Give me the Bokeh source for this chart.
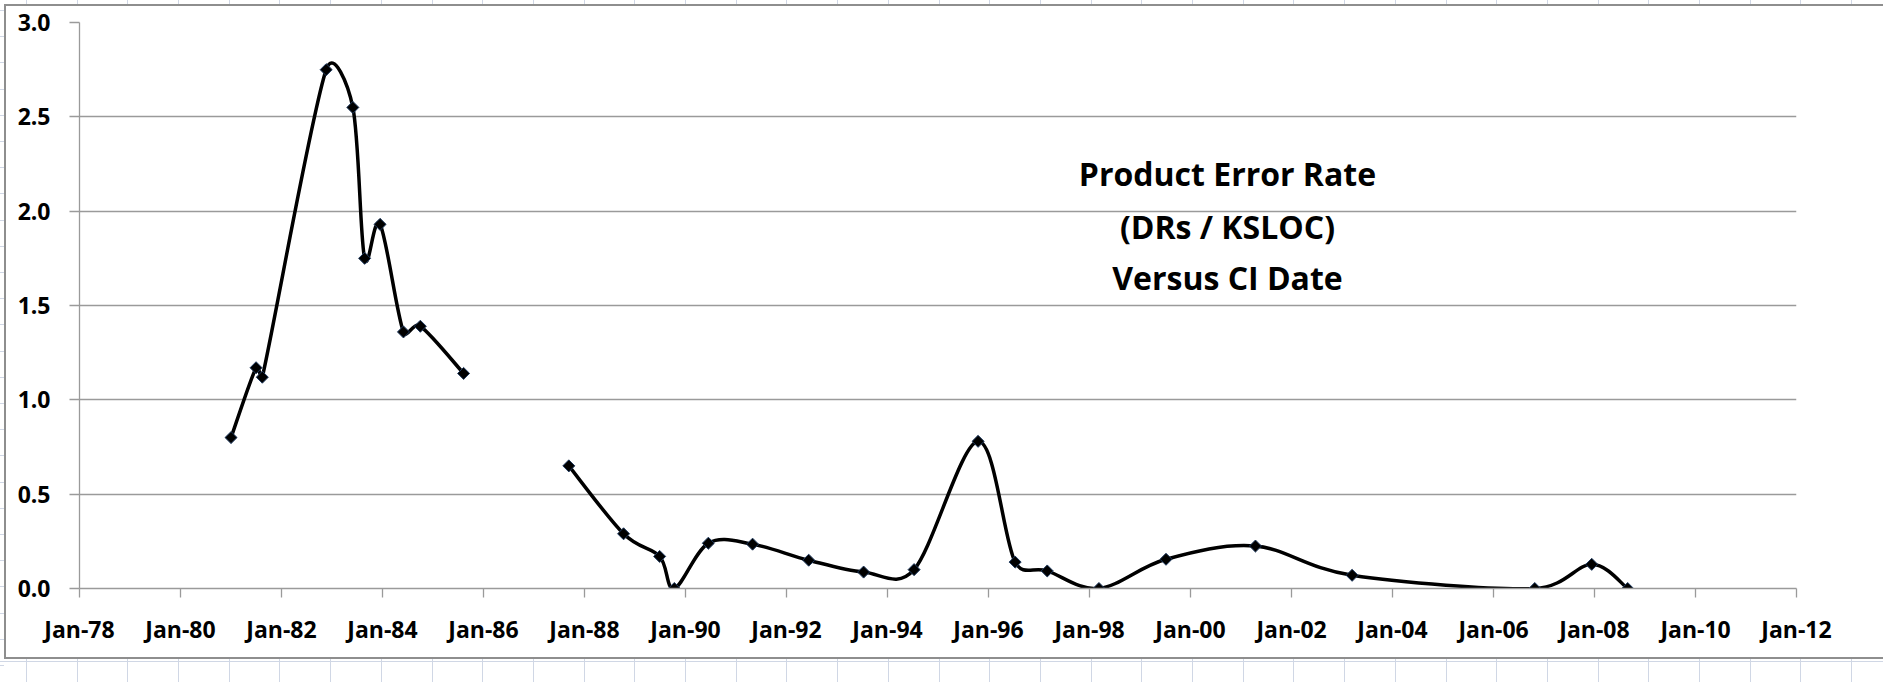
import numpy as np
import pandas as pd
from bokeh.plotting import figure
from bokeh.models import (FixedTicker, CustomJSTickFormatter, NumeralTickFormatter,
                          Label, Range1d)
from bokeh.embed import file_html
from bokeh.resources import INLINE

# ---------------- data ----------------
ci_dates = [
    "1981-01-01", "1981-07-01", "1981-08-15", "1982-11-20", "1983-06-01",
    "1983-08-25", "1983-12-15", "1984-06-01", "1984-10-01", "1985-08-10",
    "1986-09-01",  # blank cell -> gap in the line
    "1987-09-10", "1988-10-10", "1989-06-28", "1989-10-12", "1990-06-15",
    "1991-05-01", "1992-06-10", "1993-07-12", "1994-07-12", "1995-10-18",
    "1996-07-12", "1997-03-01", "1998-03-10", "1999-07-08", "2001-04-15",
    "2003-03-15", "2006-10-26", "2007-12-12", "2008-08-28",
]
error_rates = [
    0.80, 1.17, 1.12, 2.75, 2.55,
    1.75, 1.93, 1.36, 1.39, 1.14,
    None,
    0.65, 0.29, 0.17, 0.00, 0.24,
    0.235, 0.15, 0.087, 0.10, 0.78,
    0.14, 0.093, 0.00, 0.155, 0.225,
    0.07, 0.00, 0.128, 0.00,
]
tick_years = list(range(1978, 2013, 2))
tick_labels = ["Jan-78", "Jan-80", "Jan-82", "Jan-84", "Jan-86", "Jan-88",
               "Jan-90", "Jan-92", "Jan-94", "Jan-96", "Jan-98", "Jan-00",
               "Jan-02", "Jan-04", "Jan-06", "Jan-08", "Jan-10", "Jan-12"]
y_ticks = [0.0, 0.5, 1.0, 1.5, 2.0, 2.5, 3.0]
title_lines = ["Product Error Rate", "(DRs / KSLOC)", "Versus CI Date"]

# ---------------- layout ----------------
FW, FH = 1717, 566
BL, BT = 79, 22
W, H = 1883, 682
BR = W - BL - FW
BB = H - BT - FH

# ---------------- helpers ----------------
def to_ms(s):
    return float(pd.Timestamp(s).value // 10**6)

x_ms = np.array([to_ms(d) for d in ci_dates])
y_val = np.array([np.nan if v is None else v for v in error_rates], dtype=float)
tick_ms = [to_ms(f"{y}-01-01") for y in tick_years]
xr0, xr1 = tick_ms[0], tick_ms[-1]
yr0, yr1 = y_ticks[0], y_ticks[-1]
sx = FW / (xr1 - xr0)   # px per ms
sy = FH / (yr1 - yr0)   # px per unit

# split into runs separated by blank cells
runs, cur = [], []
for xv, yv in zip(x_ms, y_val):
    if np.isnan(yv):
        if cur:
            runs.append(cur)
        cur = []
    else:
        cur.append((xv, yv))
if cur:
    runs.append(cur)

# Excel-like smoothed line: Bezier segments with tension 1/6, control arms
# limited to half the segment length (computed in pixel space)
bz = {k: [] for k in ("x0", "y0", "x1", "y1", "cx0", "cy0", "cx1", "cy1")}
for run in runs:
    P = np.array([[(r[0] - xr0) * sx, (r[1] - yr0) * sy] for r in run])
    n = len(P)
    for i in range(n - 1):
        p0 = P[i - 1] if i > 0 else P[i]
        p1, p2 = P[i], P[i + 1]
        p3 = P[i + 2] if i + 2 < n else P[i + 1]
        d12 = np.hypot(*(p2 - p1))
        a = (p2 - p0) / 6.0
        b = (p3 - p1) / 6.0
        la, lb = np.hypot(*a), np.hypot(*b)
        if la > d12 / 2 and la > 0:
            a = a * (d12 / 2) / la
        if lb > d12 / 2 and lb > 0:
            b = b * (d12 / 2) / lb
        c0 = p1 + a
        c1 = p2 - b
        bz["x0"].append(p1[0] / sx + xr0); bz["y0"].append(p1[1] / sy + yr0)
        bz["x1"].append(p2[0] / sx + xr0); bz["y1"].append(p2[1] / sy + yr0)
        bz["cx0"].append(c0[0] / sx + xr0); bz["cy0"].append(c0[1] / sy + yr0)
        bz["cx1"].append(c1[0] / sx + xr0); bz["cy1"].append(c1[1] / sy + yr0)

# ---------------- figure ----------------
p = figure(x_axis_type="datetime", output_backend="svg", toolbar_location=None,
           frame_width=FW, frame_height=FH,
           min_border_left=BL, min_border_right=BR,
           min_border_top=BT, min_border_bottom=BB,
           x_range=Range1d(xr0, xr1), y_range=Range1d(yr0, yr1))
p.outline_line_color = None
p.background_fill_color = "white"
p.border_fill_color = None

# chart border + spreadsheet cell lines around the embedded chart (CSS background)
sheet = "#d0d7e5"
edge = "#8e8e8e"
solid_e = f"linear-gradient({edge}, {edge})"
solid_s = f"linear-gradient({sheet}, {sheet})"
rep_v = f"repeating-linear-gradient(to right, {sheet} 0px, {sheet} 1px, transparent 1px, transparent 50.7px)"
rep_h = f"repeating-linear-gradient(to bottom, {sheet} 0px, {sheet} 1px, transparent 1px, transparent 26.2px)"
layers = [
    (solid_e, "4px 4px", "1879px 2px"),
    (solid_e, "4px 4px", "2px 655px"),
    (solid_e, "4px 657px", "1879px 2px"),
    (solid_s, "0px 661px", "100% 1px"),
    (rep_v, "26px 659px", "100% 30px"),
    (rep_v, "26px 0px", "100% 4px"),
    (rep_h, "0px 10px", "4px 100%"),
]
p.styles = {
    "background-color": "white",
    "background-image": ", ".join(l[0] for l in layers),
    "background-position": ", ".join(l[1] for l in layers),
    "background-size": ", ".join(l[2] for l in layers),
    "background-repeat": ", ".join("no-repeat" for _ in layers),
}

p.xgrid.visible = False
p.ygrid.grid_line_color = "#9a9a9a"
p.ygrid.grid_line_width = 1.3

grey = "#9a9a9a"
font = "Open Sans"

p.xaxis.ticker = FixedTicker(ticks=tick_ms, minor_ticks=[])
p.xaxis.formatter = CustomJSTickFormatter(
    args=dict(tvals=tick_ms, tlabels=tick_labels),
    code="""
let best = 0;
for (let i = 0; i < tvals.length; i++) {
  if (Math.abs(tvals[i] - tick) < Math.abs(tvals[best] - tick)) best = i;
}
return tlabels[best];
""")
p.yaxis.ticker = FixedTicker(ticks=y_ticks, minor_ticks=[])
p.yaxis.formatter = NumeralTickFormatter(format="0.0")

for ax in (p.xaxis[0], p.yaxis[0]):
    ax.axis_line_color = grey
    ax.axis_line_width = 1.3
    ax.major_tick_line_color = grey
    ax.major_tick_line_width = 1.3
    ax.minor_tick_line_color = None
    ax.major_tick_in = 0
    ax.major_label_text_font = font
    ax.major_label_text_font_style = "bold"
    ax.major_label_text_font_size = "23px"
    ax.major_label_text_color = "black"
p.xaxis.major_tick_out = 9
p.xaxis.major_label_standoff = 15
p.yaxis.major_tick_out = 10
p.yaxis.major_label_standoff = 19

# smoothed line
p.bezier(x0=bz["x0"], y0=bz["y0"], x1=bz["x1"], y1=bz["y1"],
         cx0=bz["cx0"], cy0=bz["cy0"], cx1=bz["cx1"], cy1=bz["cy1"],
         line_color="black", line_width=3.5, line_cap="round")

# diamond markers
mask = ~np.isnan(y_val)
p.scatter(x_ms[mask], y_val[mask], marker="square", angle=np.pi / 4, size=8.5,
          fill_color="black", line_color="#1f3a5f", line_width=1)

# title inside the plot area
tx = xr0 + (xr1 - xr0) * 0.6686
for line, ty in zip(title_lines, [2.201, 1.918, 1.647]):
    p.add_layout(Label(x=tx, y=ty, text=line, text_align="center",
                       text_baseline="alphabetic", text_font=font,
                       text_font_style="bold", text_font_size="32px",
                       text_color="black"))

open("out.html", "w").write(file_html(p, INLINE))
